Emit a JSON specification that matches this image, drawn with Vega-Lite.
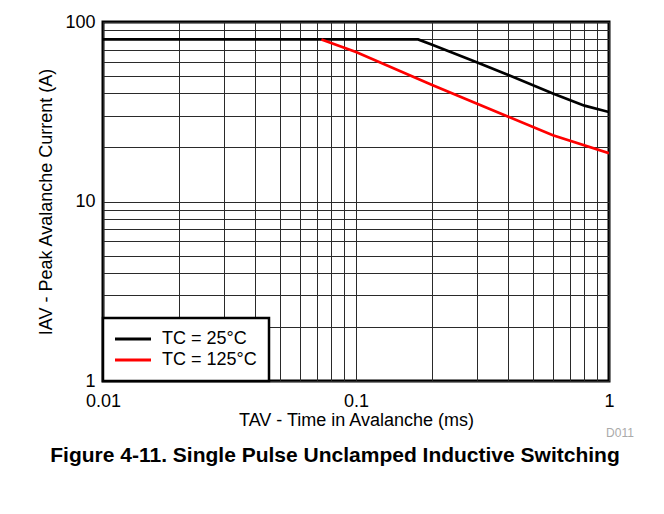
{
  "$schema": "https://vega.github.io/schema/vega-lite/v6.json",
  "width": 506,
  "height": 359,
  "autosize": {"type": "none"},
  "padding": {"left": 103, "top": 22, "right": 55, "bottom": 133},
  "background": "white",
  "config": {
    "font": "Liberation Sans",
    "view": {"stroke": "black", "strokeWidth": 3},
    "axis": {
      "domain": false,
      "ticks": false,
      "grid": true,
      "gridColor": "#2a2a2a",
      "gridWidth": 1,
      "gridOpacity": 1,
      "labelFont": "Liberation Sans",
      "labelFontSize": 18,
      "labelColor": "black",
      "titleFont": "Liberation Sans",
      "titleFontSize": 18,
      "titleFontWeight": "normal",
      "titleColor": "black",
      "labelOverlap": false,
      "labelFlush": false
    },
    "legend": {
      "orient": "bottom-left",
      "offset": 0,
      "fillColor": "white",
      "strokeColor": "black",
      "strokeWidth": 2.5,
      "padding": 12,
      "rowPadding": 3,
      "symbolType": "M-1.5,0H4.5",
      "symbolSize": 144,
      "symbolStrokeWidth": 3,
      "labelFont": "Liberation Sans",
      "labelFontSize": 18,
      "labelColor": "black",
      "labelOffset": 29
    },
    "title": {
      "font": "Liberation Sans",
      "fontSize": 21,
      "fontWeight": "bold",
      "color": "black"
    }
  },
  "title": {
    "text": "Figure 4-11. Single Pulse Unclamped Inductive Switching",
    "orient": "bottom",
    "anchor": "middle",
    "frame": "group",
    "offset": 6,
    "dx": -21
  },
  "layer": [
    {
      "data": {
        "values": [
          {"series": "TC = 25°C", "t": 0.01, "i": 80},
          {"series": "TC = 25°C", "t": 0.176, "i": 80},
          {"series": "TC = 25°C", "t": 0.2, "i": 74.6},
          {"series": "TC = 25°C", "t": 0.3, "i": 59.7},
          {"series": "TC = 25°C", "t": 0.4, "i": 50.7},
          {"series": "TC = 25°C", "t": 0.6, "i": 40},
          {"series": "TC = 25°C", "t": 0.8, "i": 34.2},
          {"series": "TC = 25°C", "t": 1.0, "i": 31.5},
          {"series": "TC = 125°C", "t": 0.073, "i": 80},
          {"series": "TC = 125°C", "t": 0.1, "i": 68},
          {"series": "TC = 125°C", "t": 0.2, "i": 44.6},
          {"series": "TC = 125°C", "t": 0.4, "i": 29.7},
          {"series": "TC = 125°C", "t": 0.6, "i": 23.4},
          {"series": "TC = 125°C", "t": 1.0, "i": 18.6}
        ]
      },
      "mark": {"type": "line", "strokeWidth": 2.7, "clip": true},
      "encoding": {
        "x": {
          "field": "t",
          "type": "quantitative",
          "scale": {"type": "log", "domain": [0.01, 1]},
          "axis": {
            "title": "TAV - Time in Avalanche (ms)",
            "values": [0.01, 0.02, 0.03, 0.04, 0.05, 0.06, 0.07, 0.08, 0.09, 0.1, 0.2, 0.3, 0.4, 0.5, 0.6, 0.7, 0.8, 0.9, 1],
            "labelExpr": "datum.value == 0.01 || datum.value == 0.1 || datum.value == 1 ? datum.value + '' : ''",
            "labelPadding": 11,
            "titlePadding": 1
          }
        },
        "y": {
          "field": "i",
          "type": "quantitative",
          "scale": {"type": "log", "domain": [1, 100]},
          "axis": {
            "title": "IAV - Peak Avalanche Current (A)",
            "values": [1, 2, 3, 4, 5, 6, 7, 8, 9, 10, 20, 30, 40, 50, 60, 70, 80, 90, 100],
            "labelExpr": "datum.value == 1 || datum.value == 10 || datum.value == 100 ? datum.value + '' : ''",
            "labelPadding": 8,
            "titlePadding": 9
          }
        },
        "color": {
          "field": "series",
          "type": "nominal",
          "scale": {"domain": ["TC = 25°C", "TC = 125°C"], "range": ["#000000", "#ff0000"]},
          "legend": {"title": null}
        }
      }
    },
    {
      "data": {"values": [{"code": "D011", "t": 1, "i": 1}]},
      "mark": {"type": "text", "fontSize": 12, "color": "#aaaaaa", "dx": 11, "dy": 52, "align": "center", "baseline": "middle"},
      "encoding": {
        "x": {"field": "t", "type": "quantitative"},
        "y": {"field": "i", "type": "quantitative"},
        "text": {"field": "code"}
      }
    }
  ]
}
